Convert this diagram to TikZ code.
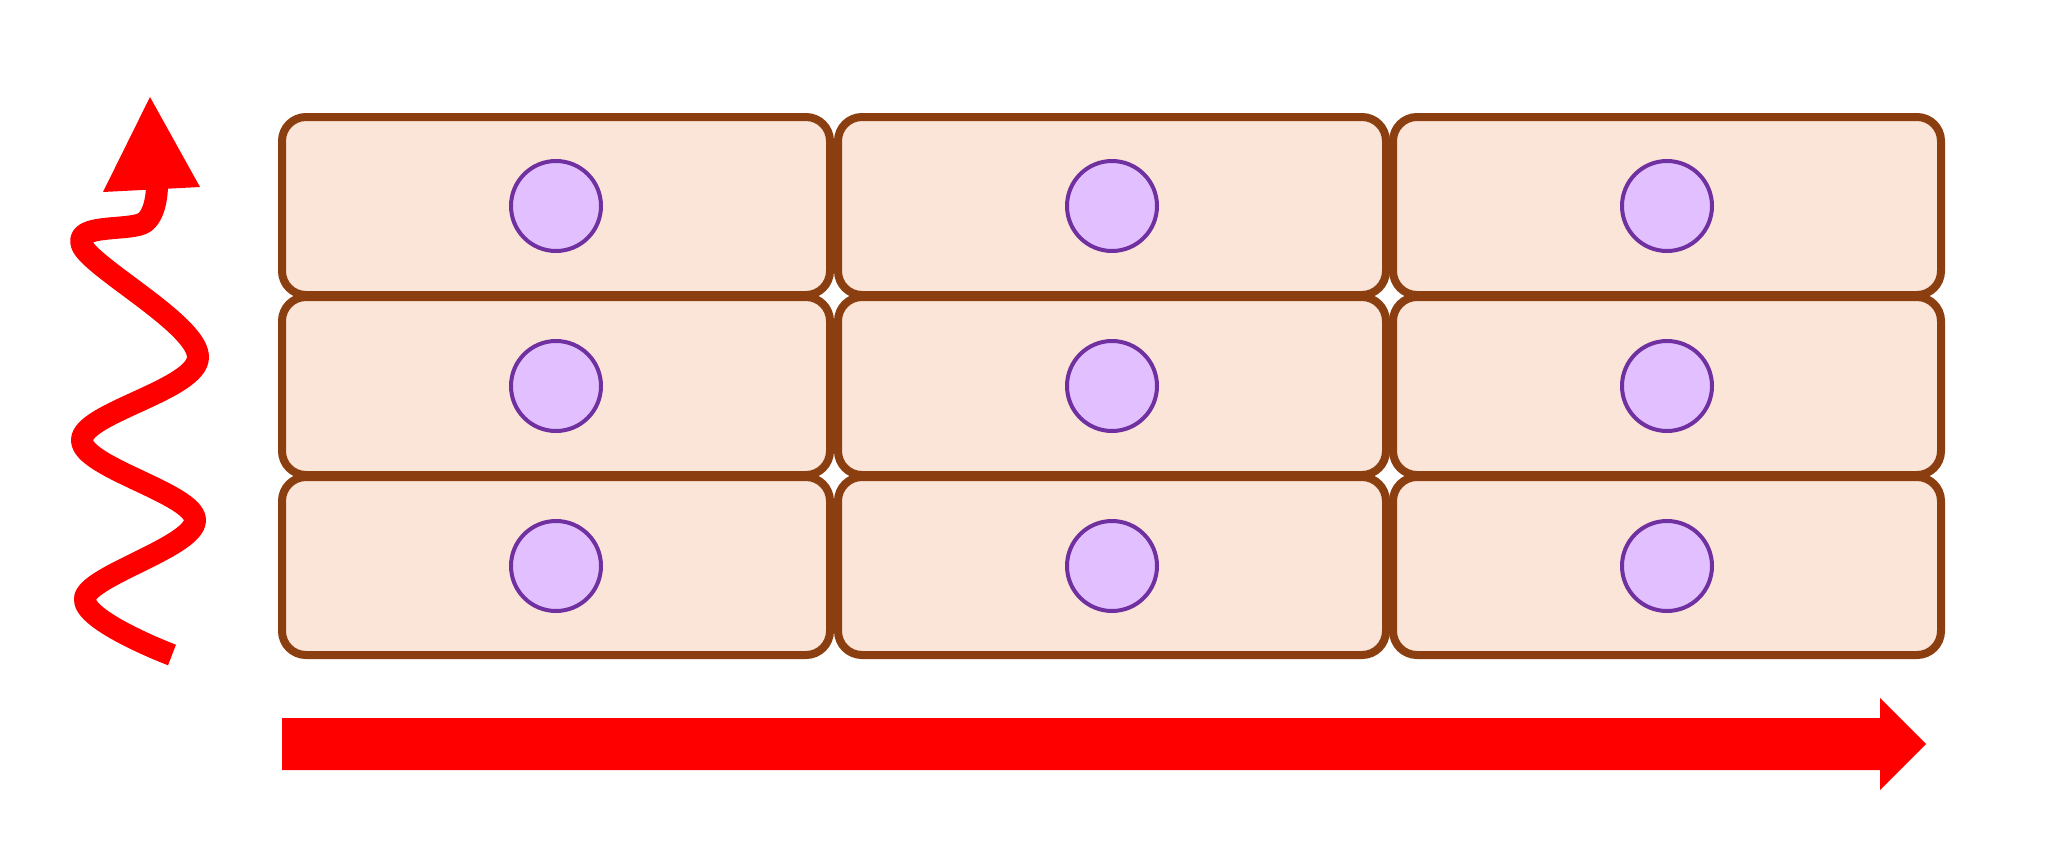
\documentclass[tikz,border=0pt]{standalone}
\usetikzlibrary{positioning}
\definecolor{cellfill}{HTML}{FAE5D8}
\definecolor{cellline}{HTML}{8B3E10}
\definecolor{dotfill}{HTML}{E2C0FF}
\definecolor{dotline}{HTML}{7030A0}
\begin{document}
\begin{tikzpicture}[x=0.01cm,y=-0.01cm,line join=round,line cap=round,
	cell/.style={draw=cellline,fill=cellfill,line width=8*0.01cm,rounded corners=24*0.01cm,
		minimum width=548*0.01cm,minimum height=178*0.01cm,inner sep=0pt},
	dot/.style={circle,draw=dotline,fill=dotfill,line width=4*0.01cm,minimum size=90*0.01cm,inner sep=0pt}]
	\useasboundingbox (0,0) rectangle (2045,845);
	% cells with dots
	\foreach \c/\x in {1/556,2/1112,3/1667}{
		\foreach \r/\y in {1/206,2/386,3/566}{
			\node[cell] (cell\c\r) at (\x,\y) {};
			\node[dot] (dot\c\r) at (\x,\y) {};
		}
	}
	% growth arrow
	\fill[red] (282,718) -- (1880,718) -- (1880,698) -- (1926,744) -- (1880,790)
		-- (1880,770) -- (282,770) -- cycle;
	% wavy arrow
	\draw[red,line width=22*0.01cm,line cap=butt] plot[smooth,tension=0.6] coordinates
		{(172,655) (85,598) (195,520) (82,440) (198,357) (82,245) (145,222) (157,185)};
	\fill[red] (103,192) -- (150,97) -- (200,187) -- cycle;
\end{tikzpicture}
\end{document}
